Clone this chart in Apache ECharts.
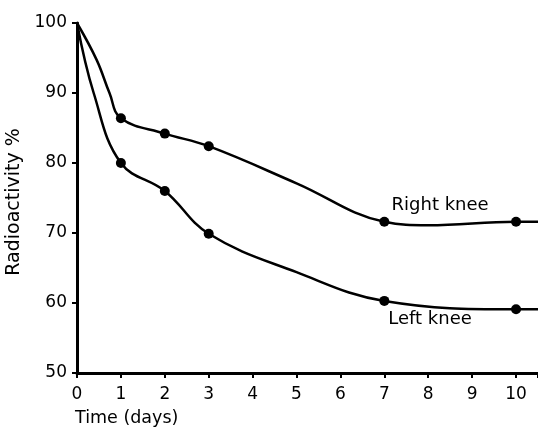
<!DOCTYPE html>
<html>
<head>
<meta charset="utf-8">
<script src="https://cdn.jsdelivr.net/npm/echarts@6/dist/echarts.min.js"></script>
<style>html,body{margin:0;padding:0;background:#fff}#c{width:538px;height:428px}</style>
</head>
<body>
<div id="c"></div>
<script>
// Measured points (days, radioactivity %)
var days = [0, 1, 2, 3, 7, 10];
var rightKnee = [100, 86.4, 84.2, 82.4, 71.6, 71.6];
var leftKnee = [100, 80.0, 76.0, 69.9, 60.3, 59.1];
// Curve shape (x, y)
var rightCurve = [[0, 100], [0.45, 94.7], [0.74, 90.0], [1, 86.4], [2, 84.2], [3, 82.4], [5, 77.1], [7, 71.6], [8, 71.1], [10, 71.6], [10.5, 71.6]];
var leftCurve = [[0, 100], [0.38, 90.0], [1, 80.0], [2, 76.0], [3, 69.9], [5, 64.4], [7, 60.3], [10, 59.1], [10.5, 59.1]];
var xTicks = [0, 1, 2, 3, 4, 5, 6, 7, 8, 9, 10];
var yTicks = [50, 60, 70, 80, 90, 100];
var labelNames = ['Right knee', 'Left knee'];
var labelX = [8.27, 8.04];
var labelY = [73.9, 57.6];

var font = 'DejaVu Sans';
function pts(xs, ys) { return xs.slice(1).map(function (x, i) { return [x, ys[i + 1]]; }); }

var chart = echarts.init(document.getElementById('c'));
chart.setOption({
  animation: false,
  backgroundColor: '#fff',
  grid: {left: 77, right: 0, top: 23, bottom: 55, outerBoundsMode: 'none', containLabel: false},
  xAxis: {
    type: 'value', min: 0, max: 10.5, interval: 1,
    axisLine: {lineStyle: {color: '#000', width: 3}},
    axisTick: {show: true, length: 5, lineStyle: {color: '#000', width: 2}},
    axisLabel: {color: '#000', fontSize: 17, fontFamily: font, margin: 13,
      formatter: function (v) { return xTicks.indexOf(v) >= 0 ? String(v) : ''; }},
    splitLine: {show: false}
  },
  yAxis: {
    type: 'value', min: 50, max: 100, interval: 10,
    name: 'Radioactivity %', nameLocation: 'middle', nameGap: 46, nameRotate: 90,
    nameTextStyle: {color: '#000', fontSize: 19, fontFamily: font, padding: [0, 8, 0, 0]},
    axisLine: {show: true, lineStyle: {color: '#000', width: 3}},
    axisTick: {show: true, length: 5, lineStyle: {color: '#000', width: 2}},
    axisLabel: {color: '#000', fontSize: 17, fontFamily: font, margin: 10,
      formatter: function (v) { return yTicks.indexOf(v) >= 0 ? String(v) : ''; }},
    splitLine: {show: false}
  },
  graphic: [{type: 'text', x: 75, y: 418, style: {text: 'Time (days)', fill: '#000', font: '17.5px "DejaVu Sans"', textVerticalAlign: 'middle'}}],
  series: [
    {type: 'line', data: rightCurve, smooth: 0.4, symbol: 'none', lineStyle: {color: '#000', width: 2.5}, z: 2},
    {type: 'line', data: leftCurve, smooth: 0.4, symbol: 'none', lineStyle: {color: '#000', width: 2.5}, z: 2},
    {type: 'scatter', data: pts(days, rightKnee), symbolSize: 10, itemStyle: {color: '#000', opacity: 1}, z: 3},
    {type: 'scatter', data: pts(days, leftKnee), symbolSize: 10, itemStyle: {color: '#000', opacity: 1}, z: 3},
    {type: 'scatter', silent: true, symbol: 'circle', symbolSize: 1, itemStyle: {color: 'rgba(0,0,0,0)', opacity: 1}, z: 4,
      data: labelNames.map(function (n, i) { return {name: n, value: [labelX[i], labelY[i]]}; }),
      label: {show: true, position: 'inside', color: '#000', opacity: 1, fontSize: 18, fontFamily: font, formatter: '{b}'}}
  ]
});
</script>
</body>
</html>
